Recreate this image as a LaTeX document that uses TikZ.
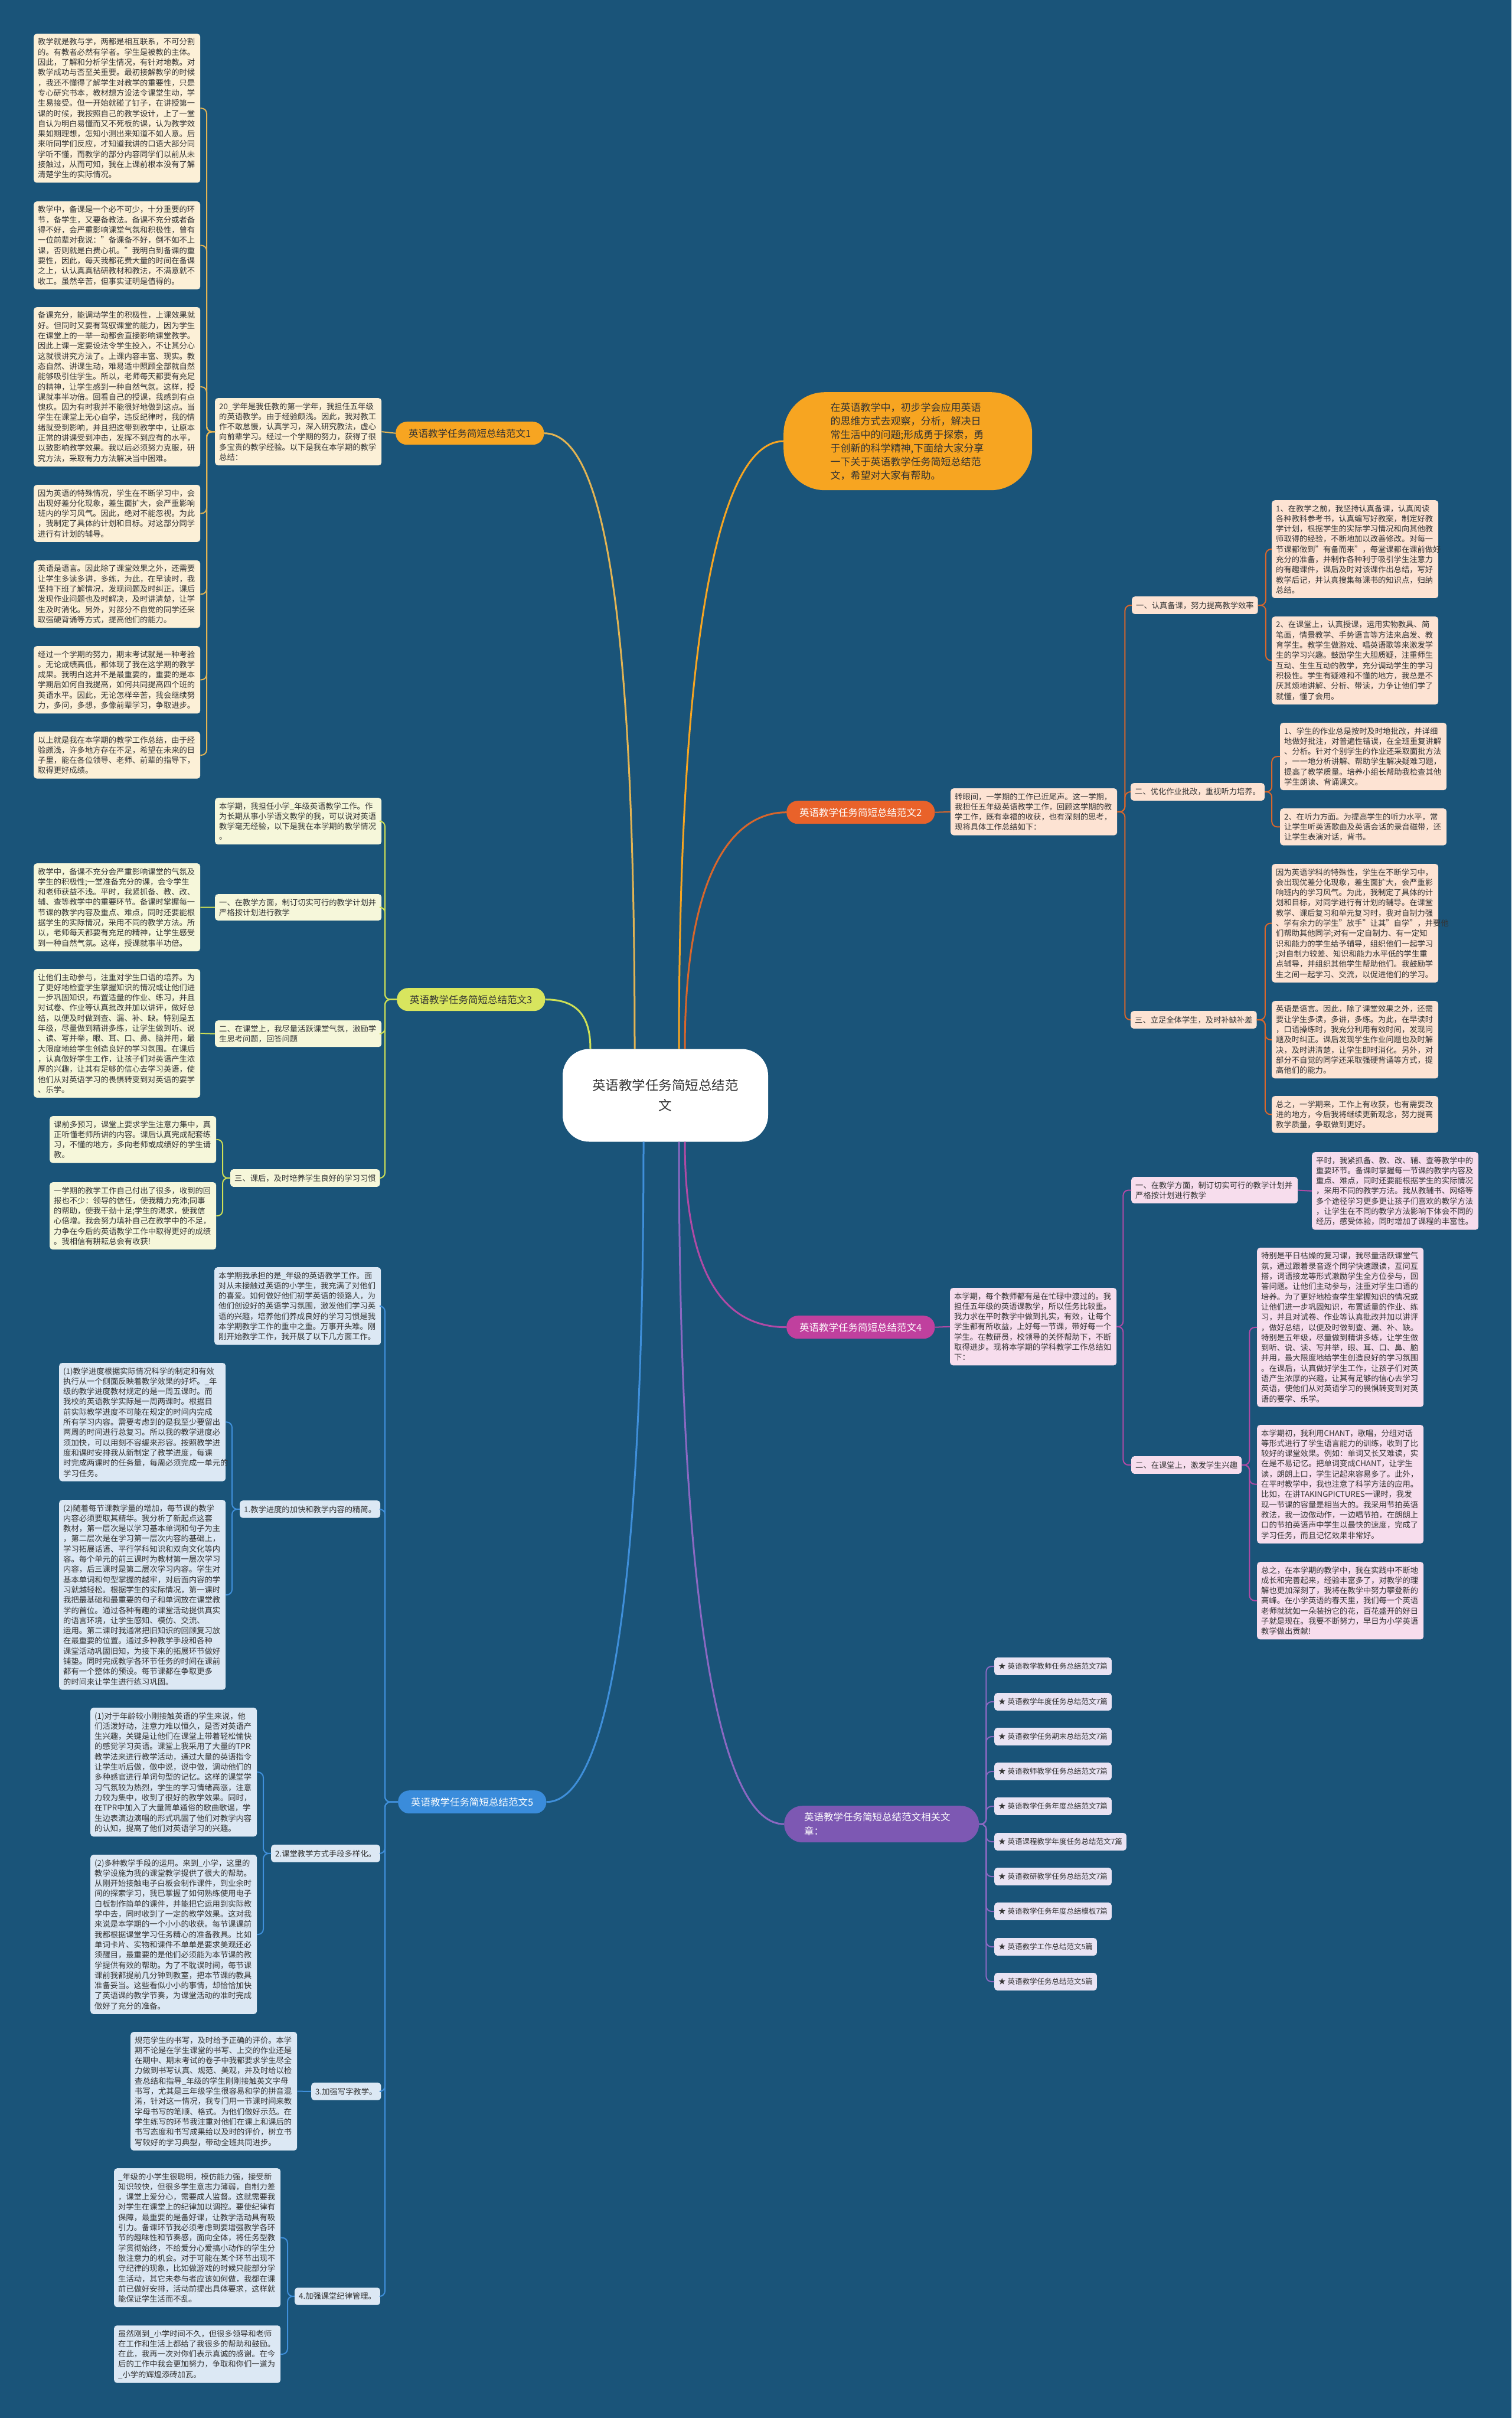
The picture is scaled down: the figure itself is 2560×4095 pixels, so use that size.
\documentclass[tikz,border=0pt]{standalone}
\usepackage{fontspec}
\setmainfont{Noto Sans CJK SC}
\usetikzlibrary{calc}

\definecolor{bgblue}{HTML}{1A5479}
\definecolor{txt}{HTML}{333333}
\definecolor{goldline}{HTML}{E3B453}
\definecolor{goldtag}{HTML}{F7A521}
\definecolor{goldleaf}{HTML}{FCF0D7}
\definecolor{redline}{HTML}{D9662B}
\definecolor{redtag}{HTML}{E9622A}
\definecolor{redleaf}{HTML}{FDE3D3}
\definecolor{limeline}{HTML}{CFE055}
\definecolor{limetag}{HTML}{D8E55E}
\definecolor{limeleaf}{HTML}{F6F7DA}
\definecolor{pinkline}{HTML}{B04AA5}
\definecolor{pinktag}{HTML}{C0409E}
\definecolor{pinkleaf}{HTML}{F7DDED}
\definecolor{blueline}{HTML}{3F8FDA}
\definecolor{bluetag}{HTML}{3A8CDB}
\definecolor{blueleaf}{HTML}{DCE8F4}
\definecolor{violine}{HTML}{8B68C2}
\definecolor{viotag}{HTML}{7D58B3}
\definecolor{violeaf}{HTML}{E9E3F3}

\begin{document}
\begin{tikzpicture}[x=1pt, y=-1pt,
  basebox/.style={anchor=north west, rounded corners=5pt, inner xsep=7pt, inner ysep=7.5pt, text=txt, font=\fontsize{13.3}{17.3}\selectfont},
  leafbox/.style={basebox, align=left, text width=268pt},
  topicbox/.style={basebox, inner ysep=8.5pt},
  headbox/.style={anchor=north west, rounded corners=19pt, minimum height=39pt, inner xsep=22pt, inner ysep=0pt, font=\fontsize{16.5}{20}\selectfont},
  relbox/.style={anchor=north west, rounded corners=5pt, inner xsep=7pt, inner ysep=9pt, fill=violeaf, text=txt, font=\fontsize{12.5}{15}\selectfont},
  linkline/.style={rounded corners=9pt, line width=2pt},
  trunkline/.style={line width=3pt}]

\useasboundingbox (0,0) rectangle (2560,4095);
\fill[bgblue] (0,0) rectangle (2560,4095);

% centre and intro
\node[fill=white, rounded corners=45pt, minimum width=348pt, minimum height=157pt, text width=250pt, align=center, text=txt, font=\fontsize{22.5}{34}\selectfont] (c) at (1127,1855) {英语教学任务简短总结范\\文};

\node[anchor=north west, fill=goldtag, rounded corners=70pt, minimum width=421pt, minimum height=166pt, text width=262pt, align=left, inner xsep=79pt, inner ysep=17pt, text=txt, font=\fontsize{17}{23}\selectfont] (intro) at (1327,664) {在英语教学中，初步学会应用英语\\的思维方式去观察，分析，解决日\\常生活中的问题;形成勇于探索，勇\\于创新的科学精神,下面给大家分享\\一下关于英语教学任务简短总结范\\文，希望对大家有帮助。};

% branch 1
\node[headbox, fill=goldtag, text=txt] (lab1) at (670,714) {英语教学任务简短总结范文1};
\node[leafbox, fill=goldleaf] (n1) at (364,674) {20\_学年是我任教的第一学年，我担任五年级\\的英语教学。由于经验颇浅。因此，我对教工\\作不敢怠慢，认真学习，深入研究教法，虚心\\向前辈学习。经过一个学期的努力，获得了很\\多宝贵的教学经验。以下是我在本学期的教学\\总结：};
\node[leafbox, fill=goldleaf] (n1a) at (57,57) {教学就是教与学，两都是相互联系，不可分割\\的。有教者必然有学者。学生是被教的主体。\\因此，了解和分析学生情况，有针对地教。对\\教学成功与否至关重要。最初接解教学的时候\\，我还不懂得了解学生对教学的重要性，只是\\专心研究书本，教材想方设法令课堂生动，学\\生易接受。但一开始就碰了钉子，在讲授第一\\课的时候，我按照自己的教学设计，上了一堂\\自认为明白易懂而又不死板的课，认为教学效\\果如期理想，怎知小测出来知道不如人意。后\\来听同学们反应，才知道我讲的口语大部分同\\学听不懂，而教学的部分内容同学们以前从未\\接触过，从而可知，我在上课前根本没有了解\\清楚学生的实际情况。};
\node[leafbox, fill=goldleaf] (n1b) at (57,341) {教学中，备课是一个必不可少，十分重要的环\\节，备学生，又要备教法。备课不充分或者备\\得不好，会严重影响课堂气氛和积极性，曾有\\一位前辈对我说："备课备不好，倒不如不上\\课，否则就是白费心机。"我明白到备课的重\\要性，因此，每天我都花费大量的时间在备课\\之上，认认真真钻研教材和教法，不满意就不\\收工。虽然辛苦，但事实证明是值得的。};
\node[leafbox, fill=goldleaf] (n1c) at (57,520) {备课充分，能调动学生的积极性，上课效果就\\好。但同时又要有驾驭课堂的能力，因为学生\\在课堂上的一举一动都会直接影响课堂教学。\\因此上课一定要设法令学生投入，不让其分心\\这就很讲究方法了。上课内容丰富、现实。教\\态自然、讲课生动，难易适中照顾全部就自然\\能够吸引住学生。所以，老师每天都要有充足\\的精神，让学生感到一种自然气氛。这样，授\\课就事半功倍。回看自己的授课，我感到有点\\愧疚。因为有时我并不能很好地做到这点。当\\学生在课堂上无心自学，违反纪律时，我的情\\绪就受到影响，并且把这带到教学中，让原本\\正常的讲课受到冲击，发挥不到应有的水平，\\以致影响教学效果。我以后必须努力克服，研\\究方法，采取有力方法解决当中困难。};
\node[leafbox, fill=goldleaf] (n1d) at (57,821) {因为英语的特殊情况，学生在不断学习中，会\\出现好差分化现象，差生面扩大，会严重影响\\班内的学习风气。因此，绝对不能忽视。为此\\，我制定了具体的计划和目标。对这部分同学\\进行有计划的辅导。};
\node[leafbox, fill=goldleaf] (n1e) at (57,949) {英语是语言。因此除了课堂效果之外，还需要\\让学生多读多讲，多练，为此，在早读时，我\\坚持下班了解情况，发现问题及时纠正。课后\\发现作业问题也及时解决，及时讲清楚，让学\\生及时消化。另外，对部分不自觉的同学还采\\取强硬背诵等方式，提高他们的能力。};
\node[leafbox, fill=goldleaf] (n1f) at (57,1094) {经过一个学期的努力，期末考试就是一种考验\\。无论成绩高低，都体现了我在这学期的教学\\成果。我明白这并不是最重要的，重要的是本\\学期后如何自我提高，如何共同提高四个班的\\英语水平。因此，无论怎样辛苦，我会继续努\\力，多问，多想，多像前辈学习，争取进步。};
\node[leafbox, fill=goldleaf] (n1g) at (57,1239) {以上就是我在本学期的教学工作总结，由于经\\验颇浅，许多地方存在不足，希望在未来的日\\子里，能在各位领导、老师、前辈的指导下，\\取得更好成绩。};

% branch 2
\node[headbox, fill=redtag, text=white] (lab2) at (1332,1356) {英语教学任务简短总结范文2};
\node[leafbox, fill=redleaf] (n2) at (1610,1335) {转眼间，一学期的工作已近尾声。这一学期，\\我担任五年级英语教学工作，回顾这学期的教\\学工作，既有幸福的收获，也有深刻的思考，\\现将具体工作总结如下：};
\node[topicbox, fill=redleaf] (s21) at (1917,1010) {一、认真备课，努力提高教学效率};
\node[topicbox, fill=redleaf] (s22) at (1915,1326) {二、优化作业批改，重视听力培养。};
\node[topicbox, fill=redleaf] (s23) at (1915,1712) {三、立足全体学生，及时补缺补差};
\node[leafbox, fill=redleaf] (n21a) at (2154,847) {1、在教学之前，我坚持认真备课，认真阅读\\各种教科参考书，认真编写好教案，制定好教\\学计划，根据学生的实际学习情况和向其他教\\师取得的经验，不断地加以改善修改。对每一\\节课都做到"有备而来"，每堂课都在课前做好\\充分的准备，并制作各种利于吸引学生注意力\\的有趣课件，课后及时对该课作出总结，写好\\教学后记，并认真搜集每课书的知识点，归纳\\总结。};
\node[leafbox, fill=redleaf] (n21b) at (2154,1044) {2、在课堂上，认真授课，运用实物教具、简\\笔画，情景教学、手势语言等方法来启发、教\\育学生。教学生做游戏、唱英语歌等来激发学\\生的学习兴趣。鼓励学生大胆质疑，注重师生\\互动、生生互动的教学，充分调动学生的学习\\积极性。学生有疑难和不懂的地方，我总是不\\厌其烦地讲解、分析、带读，力争让他们学了\\就懂，懂了会用。};
\node[leafbox, fill=redleaf] (n22a) at (2168,1224) {1、学生的作业总是按时及时地批改，并详细\\地做好批注，对普遍性错误，在全班重复讲解\\、分析。针对个别学生的作业还采取面批方法\\，一一地分析讲解、帮助学生解决疑难习题，\\提高了教学质量。培养小组长帮助我检查其他\\学生朗读、背诵课文。};
\node[leafbox, fill=redleaf] (n22b) at (2168,1369) {2、在听力方面。为提高学生的听力水平，常\\让学生听英语歌曲及英语会话的录音磁带，还\\让学生表演对话，背书。};
\node[leafbox, fill=redleaf] (n23a) at (2154,1463) {因为英语学科的特殊性，学生在不断学习中，\\会出现优差分化现象，差生面扩大，会严重影\\响班内的学习风气。为此，我制定了具体的计\\划和目标，对同学进行有计划的辅导。在课堂\\教学、课后复习和单元复习时，我对自制力强\\、学有余力的学生"放手"让其"自学"，并要他\\们帮助其他同学;对有一定自制力、有一定知\\识和能力的学生给予辅导，组织他们一起学习\\;对自制力较差、知识和能力水平低的学生重\\点辅导，并组织其他学生帮助他们。我鼓励学\\生之间一起学习、交流，以促进他们的学习。};
\node[leafbox, fill=redleaf] (n23b) at (2154,1695) {英语是语言。因此，除了课堂效果之外，还需\\要让学生多读，多讲，多练。为此，在早读时\\，口语操练时，我充分利用有效时间，发现问\\题及时纠正。课后发现学生作业问题也及时解\\决，及时讲清楚，让学生即时消化。另外，对\\部分不自觉的同学还采取强硬背诵等方式，提\\高他们的能力。};
\node[leafbox, fill=redleaf] (n23c) at (2154,1856) {总之，一学期来，工作上有收获，也有需要改\\进的地方，今后我将继续更新观念，努力提高\\教学质量，争取做到更好。};

% branch 3
\node[headbox, fill=limetag, text=txt] (lab3) at (672,1673) {英语教学任务简短总结范文3};
\node[leafbox, fill=limeleaf] (n3) at (364,1351) {本学期，我担任小学\_年级英语教学工作。作\\为长期从事小学语文教学的我，可以说对英语\\教学毫无经验，以下是我在本学期的教学情况\\。};
\node[leafbox, fill=limeleaf] (s31) at (364,1514) {一、在教学方面，制订切实可行的教学计划并\\严格按计划进行教学};
\node[leafbox, fill=limeleaf] (n31) at (57,1462) {教学中，备课不充分会严重影响课堂的气氛及\\学生的积极性;一堂准备充分的课，会令学生\\和老师获益不浅。平时，我紧抓备、教、改、\\辅、查等教学中的重要环节。备课时掌握每一\\节课的教学内容及重点、难点，同时还要能根\\据学生的实际情况，采用不同的教学方法。所\\以，老师每天都要有充足的精神，让学生感受\\到一种自然气氛。这样，授课就事半功倍。};
\node[leafbox, fill=limeleaf] (s32) at (364,1728) {二、在课堂上，我尽量活跃课堂气氛，激励学\\生思考问题，回答问题};
\node[leafbox, fill=limeleaf] (n32) at (57,1641) {让他们主动参与，注重对学生口语的培养。为\\了更好地检查学生掌握知识的情况或让他们进\\一步巩固知识，布置适量的作业、练习，并且\\对试卷、作业等认真批改并加以讲评，做好总\\结，以便及时做到查、漏、补、缺。特别是五\\年级，尽量做到精讲多练，让学生做到听、说\\、读、写并举，眼、耳、口、鼻、脑并用，最\\大限度地给学生创造良好的学习氛围。在课后\\，认真做好学生工作，让孩子们对英语产生浓\\厚的兴趣，让其有足够的信心去学习英语，使\\他们从对英语学习的畏惧转变到对英语的要学\\、乐学。};
\node[topicbox, fill=limeleaf] (s33) at (390,1980) {三、课后，及时培养学生良好的学习习惯};
\node[leafbox, fill=limeleaf] (n33a) at (84,1890) {课前多预习，课堂上要求学生注意力集中，真\\正听懂老师所讲的内容。课后认真完成配套练\\习，不懂的地方，多向老师或成绩好的学生请\\教。};
\node[leafbox, fill=limeleaf] (n33b) at (84,2002) {一学期的教学工作自己付出了很多，收到的回\\报也不少：领导的信任，使我精力充沛;同事\\的帮助，使我干劲十足;学生的渴求，使我信\\心倍增。我会努力填补自己在教学中的不足，\\力争在今后的英语教学工作中取得更好的成绩\\。我相信有耕耘总会有收获!};

% branch 4
\node[headbox, fill=pinktag, text=white] (lab4) at (1332,2228) {英语教学任务简短总结范文4};
\node[leafbox, fill=pinkleaf] (n4) at (1609,2181) {本学期，每个教师都有是在忙碌中渡过的。我\\担任五年级的英语课教学，所以任务比较重。\\我力求在平时教学中做到扎实，有效，让每个\\学生都有所收益，上好每一节课，带好每一个\\学生。在教研员，校领导的关怀帮助下，不断\\取得进步。现将本学期的学科教学工作总结如\\下：};
\node[leafbox, fill=pinkleaf] (s41) at (1916,1993) {一、在教学方面，制订切实可行的教学计划并\\严格按计划进行教学};
\node[leafbox, fill=pinkleaf] (n41) at (2222,1951) {平时，我紧抓备、教、改、辅、查等教学中的\\重要环节。备课时掌握每一节课的教学内容及\\重点、难点，同时还要能根据学生的实际情况\\，采用不同的教学方法。我从教辅书、网络等\\多个途径学习更多更让孩子们喜欢的教学方法\\，让学生在不同的教学方法影响下体会不同的\\经历，感受体验，同时增加了课程的丰富性。};
\node[topicbox, fill=pinkleaf] (s42) at (1916,2466) {二、在课堂上，激发学生兴趣};
\node[leafbox, fill=pinkleaf] (n42a) at (2129,2113) {特别是平日枯燥的复习课，我尽量活跃课堂气\\氛，通过跟着录音逐个同学快速跟读，互问互\\搭，词语接龙等形式激励学生全方位参与，回\\答问题。让他们主动参与，注重对学生口语的\\培养。为了更好地检查学生掌握知识的情况或\\让他们进一步巩固知识，布置适量的作业、练\\习，并且对试卷、作业等认真批改并加以讲评\\，做好总结，以便及时做到查、漏、补、缺。\\特别是五年级，尽量做到精讲多练，让学生做\\到听、说、读、写并举，眼、耳、口、鼻、脑\\并用，最大限度地给学生创造良好的学习氛围\\。在课后，认真做好学生工作，让孩子们对英\\语产生浓厚的兴趣，让其有足够的信心去学习\\英语，使他们从对英语学习的畏惧转变到对英\\语的要学、乐学。};
\node[leafbox, fill=pinkleaf] (n42b) at (2129,2413) {本学期初，我利用CHANT，歌唱，分组对话\\等形式进行了学生语言能力的训练，收到了比\\较好的课堂效果。例如：单词又长又难读，实\\在是不易记忆。把单词变成CHANT，让学生\\读，朗朗上口，学生记起来容易多了。此外，\\在平时教学中，我也注意了科学方法的应用。\\比如，在讲TAKINGPICTURES一课时，我发\\现一节课的容量是相当大的。我采用节拍英语\\教法，我一边做动作，一边唱节拍，在朗朗上\\口的节拍英语声中学生以最快的速度，完成了\\学习任务，而且记忆效果非常好。};
\node[leafbox, fill=pinkleaf] (n42c) at (2129,2645) {总之，在本学期的教学中，我在实践中不断地\\成长和完善起来，经验丰富多了，对教学的理\\解也更加深刻了，我将在教学中努力攀登新的\\高峰。在小学英语的春天里，我们每一个英语\\老师就犹如一朵装扮它的花，百花盛开的好日\\子就是现在。我要不断努力，早日为小学英语\\教学做出贡献!};

% branch 5
\node[headbox, fill=bluetag, text=white] (lab5) at (674,3032) {英语教学任务简短总结范文5};
\node[leafbox, fill=blueleaf] (n5) at (363,2146) {本学期我承担的是\_年级的英语教学工作。面\\对从未接触过英语的小学生，我充满了对他们\\的喜爱。如何做好他们初学英语的领路人，为\\他们创设好的英语学习氛围，激发他们学习英\\语的兴趣，培养他们养成良好的学习习惯是我\\本学期教学工作的重中之重。万事开头难。刚\\刚开始教学工作，我开展了以下几方面工作。};
\node[topicbox, fill=blueleaf] (s51) at (406,2541) {1.教学进度的加快和教学内容的精简。};
\node[leafbox, fill=blueleaf] (n51a) at (100,2308) {(1)教学进度根据实际情况科学的制定和有效\\执行从一个侧面反映着教学效果的好坏。\_年\\级的教学进度教材规定的是一周五课时。而\\我校的英语教学实际是一周两课时。根据目\\前实际教学进度不可能在规定的时间内完成\\所有学习内容。需要考虑到的是我至少要留出\\两周的时间进行总复习。所以我的教学进度必\\须加快，可以用刻不容缓来形容。按照教学进\\度和课时安排我从新制定了教学进度，每课\\时完成两课时的任务量，每周必须完成一单元的\\学习任务。};
\node[leafbox, fill=blueleaf] (n51b) at (100,2540) {(2)随着每节课教学量的增加，每节课的教学\\内容必须要取其精华。我分析了新起点这套\\教材，第一层次是以学习基本单词和句子为主\\，第二层次是在学习第一层次内容的基础上，\\学习拓展话语、平行学科知识和双向文化等内\\容。每个单元的前三课时为教材第一层次学习\\内容，后三课时是第二层次学习内容。学生对\\基本单词和句型掌握的越牢，对后面内容的学\\习就越轻松。根据学生的实际情况，第一课时\\我把最基础和最重要的句子和单词放在课堂教\\学的首位。通过各种有趣的课堂活动提供真实\\的语言环境，让学生感知、模仿、交流、\\运用。第二课时我通常把旧知识的回顾复习放\\在最重要的位置。通过多种教学手段和各种\\课堂活动巩固旧知，为接下来的拓展环节做好\\铺垫。同时完成教学各环节任务的时间在课前\\都有一个整体的预设。每节课都在争取更多\\的时间来让学生进行练习巩固。};
\node[topicbox, fill=blueleaf] (s52) at (459,3124) {2.课堂教学方式手段多样化。};
\node[leafbox, fill=blueleaf] (n52a) at (153,2892) {(1)对于年龄较小刚接触英语的学生来说，他\\们活泼好动，注意力难以恒久，是否对英语产\\生兴趣，关键是让他们在课堂上带着轻松愉快\\的感觉学习英语。课堂上我采用了大量的TPR\\教学法来进行教学活动，通过大量的英语指令\\让学生听后做，做中说，说中做，调动他们的\\多种感官进行单词句型的记忆。这样的课堂学\\习气氛较为热烈，学生的学习情绪高涨，注意\\力较为集中，收到了很好的教学效果。同时，\\在TPR中加入了大量简单通俗的歌曲歌谣，学\\生边表演边演唱的形式巩固了他们对教学内容\\的认知，提高了他们对英语学习的兴趣。};
\node[leafbox, fill=blueleaf] (n52b) at (153,3141) {(2)多种教学手段的运用。来到\_小学，这里的\\教学设施为我的课堂教学提供了很大的帮助。\\从刚开始接触电子白板会制作课件，到业余时\\间的探索学习，我已掌握了如何熟练使用电子\\白板制作简单的课件，并能把它运用到实际教\\学中去，同时收到了一定的教学效果。这对我\\来说是本学期的一个小小的收获。每节课课前\\我都根据课堂学习任务精心的准备教具。比如\\单词卡片、实物和课件不单单是要求美观还必\\须醒目，最重要的是他们必须能为本节课的教\\学提供有效的帮助。为了不耽误时间，每节课\\课前我都提前几分钟到教室，把本节课的教具\\准备妥当。这些看似小小的事情，却恰恰加快\\了英语课的教学节奏，为课堂活动的准时完成\\做好了充分的准备。};
\node[topicbox, fill=blueleaf] (s53) at (527,3527) {3.加强写字教学。};
\node[leafbox, fill=blueleaf] (n53) at (221,3441) {规范学生的书写，及时给予正确的评价。本学\\期不论是在学生课堂的书写、上交的作业还是\\在期中、期末考试的卷子中我都要求学生尽全\\力做到书写认真、规范、美观，并及时给以检\\查总结和指导\_年级的学生刚刚接触英文字母\\书写，尤其是三年级学生很容易和学的拼音混\\淆，针对这一情况，我专门用一节课时间来教\\字母书写的笔顺、格式。为他们做好示范。在\\学生练写的环节我注重对他们在课上和课后的\\书写态度和书写成果给以及时的评价，树立书\\写较好的学习典型，带动全班共同进步。};
\node[topicbox, fill=blueleaf] (s54) at (499,3874) {4.加强课堂纪律管理。};
\node[leafbox, fill=blueleaf] (n54a) at (193,3672) {\_年级的小学生很聪明，模仿能力强，接受新\\知识较快，但很多学生意志力薄弱，自制力差\\，课堂上爱分心，需要成人监督。这就需要我\\对学生在课堂上的纪律加以调控。要使纪律有\\保障，最重要的是备好课，让教学活动具有吸\\引力。备课环节我必须考虑到要增强教学各环\\节的趣味性和节奏感，面向全体，将任务型教\\学贯彻始终，不给爱分心爱搞小动作的学生分\\散注意力的机会。对于可能在某个环节出现不\\守纪律的现象，比如做游戏的时候只能部分学\\生活动，其它未参与者应该如何做，我都在课\\前已做好安排，活动前提出具体要求，这样就\\能保证学生活而不乱。};
\node[leafbox, fill=blueleaf] (n54b) at (193,3938) {虽然刚到\_小学时间不久，但很多领导和老师\\在工作和生活上都给了我很多的帮助和鼓励。\\在此，我再一次对你们表示真诚的感谢。在今\\后的工作中我会更加努力，争取和你们一道为\\\_小学的辉煌添砖加瓦。};

% branch 6
\node[headbox, fill=viotag, text=white, rounded corners=31pt, minimum height=62pt, text width=262pt, align=left, inner xsep=34pt, font=\fontsize{16.5}{24}\selectfont] (lab6) at (1328,3058) {英语教学任务简短总结范文相关文\\章：};
\node[relbox] (r1) at (1684,2807) {★ 英语教学教师任务总结范文7篇};
\node[relbox] (r2) at (1684,2867) {★ 英语教学年度任务总结范文7篇};
\node[relbox] (r3) at (1684,2926) {★ 英语教学任务期末总结范文7篇};
\node[relbox] (r4) at (1684,2985) {★ 英语教师教学任务总结范文7篇};
\node[relbox] (r5) at (1684,3044) {★ 英语教学任务年度总结范文7篇};
\node[relbox] (r6) at (1684,3104) {★ 英语课程教学年度任务总结范文7篇};
\node[relbox] (r7) at (1684,3163) {★ 英语教研教学任务总结范文7篇};
\node[relbox] (r8) at (1684,3222) {★ 英语教学任务年度总结模板7篇};
\node[relbox] (r9) at (1684,3282) {★ 英语教学工作总结范文5篇};
\node[relbox] (r10) at (1684,3341) {★ 英语教学任务总结范文5篇};

% curves from the centre
\draw[trunkline, goldline] ($(c.north)+(-52,0)$) .. controls +(0,-750) and +(100,0) .. (lab1.east);
\draw[trunkline, goldtag] ($(c.north)+(23,0)$) .. controls +(0,-750) and +(-100,0) .. (intro.west);
\draw[trunkline, redline] ($(c.north)+(33,0)$) .. controls +(0,-300) and +(-90,0) .. (lab2.west);
\draw[trunkline, limeline] ($(c.north)+(-127,0)$) .. controls +(0,-60) and +(50,0) .. (lab3.east);
\draw[trunkline, pinkline] ($(c.south)+(33,0)$) .. controls +(0,250) and +(-90,0) .. (lab4.west);
\draw[trunkline, blueline] ($(c.south)+(-37,0)$) .. controls +(0,800) and +(100,0) .. (lab5.east);
\draw[trunkline, violine] ($(c.south)+(23,0)$) .. controls +(0,850) and +(-100,0) .. (lab6.west);

% branch 1 links
\draw[linkline, goldline] (lab1.west) -- (n1.east);
\draw[linkline, goldline] (n1.west) -- ++(-14,0) |- (n1a.east);
\draw[linkline, goldline] (n1.west) -- ++(-14,0) |- (n1b.east);
\draw[linkline, goldline] (n1.west) -- ++(-14,0) |- (n1c.east);
\draw[linkline, goldline] (n1.west) -- ++(-14,0) |- (n1d.east);
\draw[linkline, goldline] (n1.west) -- ++(-14,0) |- (n1e.east);
\draw[linkline, goldline] (n1.west) -- ++(-14,0) |- (n1f.east);
\draw[linkline, goldline] (n1.west) -- ++(-14,0) |- (n1g.east);

% branch 2 links
\draw[linkline, redline] (lab2.east) -- (n2.west);
\draw[linkline, redline] (n2.east) -- ++(13,0) |- (s21.west);
\draw[linkline, redline] (n2.east) -- ++(13,0) |- (s22.west);
\draw[linkline, redline] (n2.east) -- ++(13,0) |- (s23.west);
\draw[linkline, redline] (s21.east) -- ++(13,0) |- (n21a.west);
\draw[linkline, redline] (s21.east) -- ++(13,0) |- (n21b.west);
\draw[linkline, redline] (s22.east) -- ++(12,0) |- (n22a.west);
\draw[linkline, redline] (s22.east) -- ++(12,0) |- (n22b.west);
\draw[linkline, redline] (s23.east) -- ++(14,0) |- (n23a.west);
\draw[linkline, redline] (s23.east) -- ++(14,0) |- (n23b.west);
\draw[linkline, redline] (s23.east) -- ++(14,0) |- (n23c.west);

% branch 3 links
\draw[linkline, limeline] (lab3.west) -- ++(-20,0) |- (n3.east);
\draw[linkline, limeline] (lab3.west) -- ++(-20,0) |- (s31.east);
\draw[linkline, limeline] (lab3.west) -- ++(-20,0) |- (s32.east);
\draw[linkline, limeline] (lab3.west) -- ++(-20,0) |- (s33.east);
\draw[linkline, limeline] (s31.west) -- (n31.east);
\draw[linkline, limeline] (s32.west) -- (n32.east);
\draw[linkline, limeline] (s33.west) -- ++(-13,0) |- (n33a.east);
\draw[linkline, limeline] (s33.west) -- ++(-13,0) |- (n33b.east);

% branch 4 links
\draw[linkline, pinkline] (lab4.east) -- (n4.west);
\draw[linkline, pinkline] (n4.east) -- ++(11,0) |- (s41.west);
\draw[linkline, pinkline] (n4.east) -- ++(11,0) |- (s42.west);
\draw[linkline, pinkline] (s41.east) -- (n41.west);
\draw[linkline, pinkline] (s42.east) -- ++(13,0) |- (n42a.west);
\draw[linkline, pinkline] (s42.east) -- ++(13,0) |- (n42b.west);
\draw[linkline, pinkline] (s42.east) -- ++(13,0) |- (n42c.west);

% branch 5 links
\draw[linkline, blueline] (lab5.west) -- ++(-22,0) |- (n5.east);
\draw[linkline, blueline] (lab5.west) -- ++(-22,0) |- (s51.east);
\draw[linkline, blueline] (lab5.west) -- ++(-22,0) |- (s52.east);
\draw[linkline, blueline] (lab5.west) -- ++(-22,0) |- (s53.east);
\draw[linkline, blueline] (lab5.west) -- ++(-22,0) |- (s54.east);
\draw[linkline, blueline] (s51.west) -- ++(-13,0) |- (n51a.east);
\draw[linkline, blueline] (s51.west) -- ++(-13,0) |- (n51b.east);
\draw[linkline, blueline] (s52.west) -- ++(-13,0) |- (n52a.east);
\draw[linkline, blueline] (s52.west) -- ++(-13,0) |- (n52b.east);
\draw[linkline, blueline] (s53.west) -- (n53.east);
\draw[linkline, blueline] (s54.west) -- ++(-12,0) |- (n54a.east);
\draw[linkline, blueline] (s54.west) -- ++(-12,0) |- (n54b.east);

% branch 6 links
\draw[linkline, violine] (lab6.east) -- ++(12,0) |- (r1.west);
\draw[linkline, violine] (lab6.east) -- ++(12,0) |- (r2.west);
\draw[linkline, violine] (lab6.east) -- ++(12,0) |- (r3.west);
\draw[linkline, violine] (lab6.east) -- ++(12,0) |- (r4.west);
\draw[linkline, violine] (lab6.east) -- ++(12,0) |- (r5.west);
\draw[linkline, violine] (lab6.east) -- ++(12,0) |- (r6.west);
\draw[linkline, violine] (lab6.east) -- ++(12,0) |- (r7.west);
\draw[linkline, violine] (lab6.east) -- ++(12,0) |- (r8.west);
\draw[linkline, violine] (lab6.east) -- ++(12,0) |- (r9.west);
\draw[linkline, violine] (lab6.east) -- ++(12,0) |- (r10.west);

\end{tikzpicture}
\end{document}
